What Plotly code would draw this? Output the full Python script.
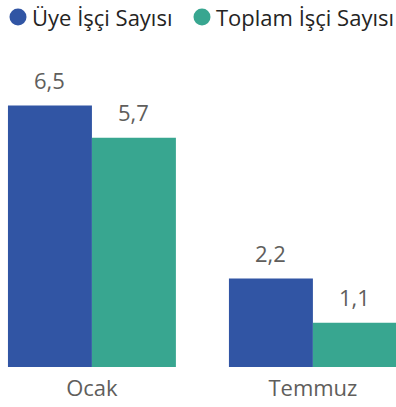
import plotly.graph_objects as go

# Monthly worker counts, two series per month
months = ["Ocak", "Temmuz"]
members = [6.5, 2.2]
totals = [5.7, 1.1]
series_names = ["Üye İşçi Sayısı", "Toplam İşçi Sayısı"]
colors = ["#3155A4", "#38A690"]

BARGAP = 0.24
FONT = "Open Sans, Noto Sans, sans-serif"
LABEL_COLOR = "#605E5C"
H, MT, MB = 407, 40, 40


def fmt(v):
    return f"{v:.1f}".replace(".", ",")


fig = go.Figure()
for name, vals, col in zip(series_names, [members, totals], colors):
    fig.add_trace(go.Bar(
        x=months, y=vals, name=name, marker=dict(color=col, line=dict(width=0)),
        showlegend=False, hoverinfo="skip",
    ))

# value labels above each bar, placed at the bar centres of the group
half = (1 - BARGAP) / 4
for s, vals in enumerate([members, totals]):
    for i, v in enumerate(vals):
        fig.add_annotation(
            x=i + (-half if s == 0 else half), y=v, xref="x", yref="y",
            text=fmt(v), showarrow=False, yanchor="bottom", yshift=9,
            font=dict(family=FONT, size=22, color=LABEL_COLOR),
        )

# legend row: round swatches followed by series names
plot_h = H - MT - MB
legend_y = 1 + (MT - 17) / plot_h
swatch_x = [18, 202]
for name, col, sx in zip(series_names, colors, swatch_x):
    fig.add_shape(
        type="circle", xref="paper", yref="paper",
        xsizemode="pixel", ysizemode="pixel",
        xanchor=sx / 396, yanchor=legend_y,
        x0=-8.5, x1=8.5, y0=-8.5, y1=8.5,
        fillcolor=col, line=dict(width=0),
    )
    fig.add_annotation(
        x=(sx + 12) / 396, y=legend_y, xref="paper", yref="paper",
        text=name, showarrow=False, xanchor="left", yanchor="middle",
        font=dict(family=FONT, size=22, color="#252423"),
    )

fig.update_layout(
    width=396, height=H,
    margin=dict(l=0, r=0, t=MT, b=MB),
    paper_bgcolor="white", plot_bgcolor="white",
    barmode="group", bargap=BARGAP, bargroupgap=0,
    showlegend=False,
    font=dict(family=FONT, size=22, color=LABEL_COLOR),
    xaxis=dict(
        type="category", range=[-0.416, 1.376], showgrid=False, zeroline=False,
        showline=False, ticks="", ticklabelstandoff=6,
        tickfont=dict(size=22, color=LABEL_COLOR),
    ),
    yaxis=dict(
        range=[0, 8.13], visible=False, showgrid=False, zeroline=False,
    ),
)

fig.write_html("out.html")
